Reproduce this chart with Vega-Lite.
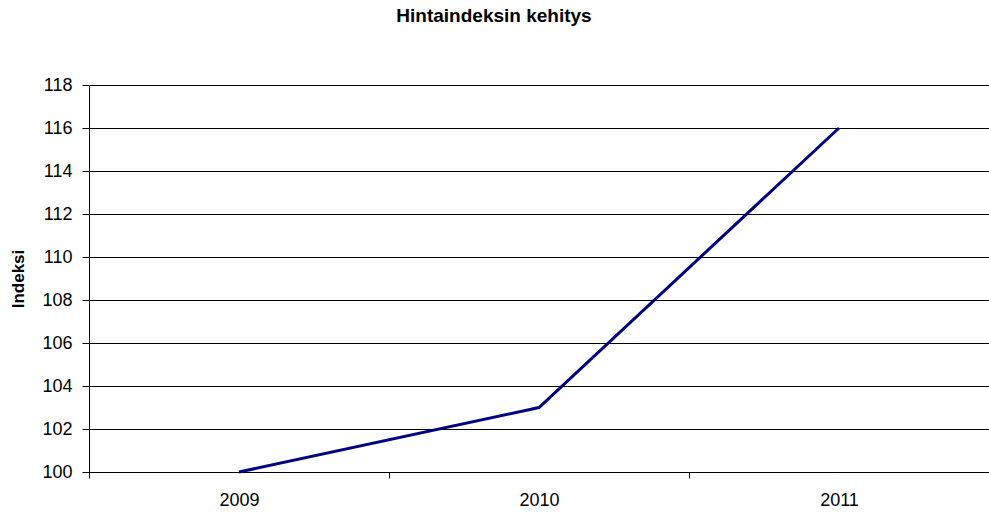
{
  "$schema": "https://vega.github.io/schema/vega-lite/v6.json",
  "width": 900,
  "height": 387,
  "autosize": {"type": "none"},
  "padding": {"left": 89, "top": 85, "right": 0, "bottom": 40},
  "background": "white",
  "title": {
    "text": "Hintaindeksin kehitys",
    "font": "Liberation Sans",
    "fontSize": 19,
    "fontWeight": "bold",
    "color": "black",
    "anchor": "middle",
    "frame": "group",
    "dx": -45,
    "offset": 50
  },
  "config": {
    "view": {"stroke": null},
    "axis": {
      "labelFont": "Liberation Sans",
      "labelFontSize": 18,
      "labelColor": "black",
      "titleFont": "Liberation Sans",
      "titleColor": "black",
      "domainColor": "black",
      "tickColor": "black",
      "gridColor": "black",
      "gridOpacity": 1
    }
  },
  "data": {
    "values": [
      {"year": "2009", "value": 100},
      {"year": "2010", "value": 103},
      {"year": "2011", "value": 116}
    ]
  },
  "mark": {"type": "line", "color": "#000080", "strokeWidth": 3},
  "encoding": {
    "x": {
      "field": "year",
      "type": "ordinal",
      "bandPosition": 0.5,
      "scale": {"type": "band", "paddingInner": 0, "paddingOuter": 0, "domain": ["2009", "2010", "2011"]},
      "axis": {
        "title": null,
        "labelAngle": 0,
        "tickBand": "extent",
        "tickSize": 6,
        "labelPadding": 13,
        "grid": false,
        "domainWidth": 1
      }
    },
    "y": {
      "field": "value",
      "type": "quantitative",
      "scale": {"domain": [100, 118], "nice": false, "zero": false},
      "axis": {
        "title": "Indeksi",
        "titleFontSize": 17,
        "titleFontWeight": "bold",
        "titlePadding": 14,
        "values": [100, 102, 104, 106, 108, 110, 112, 114, 116, 118],
        "tickSize": 7,
        "labelPadding": 10,
        "grid": true,
        "gridWidth": 1
      }
    }
  }
}
